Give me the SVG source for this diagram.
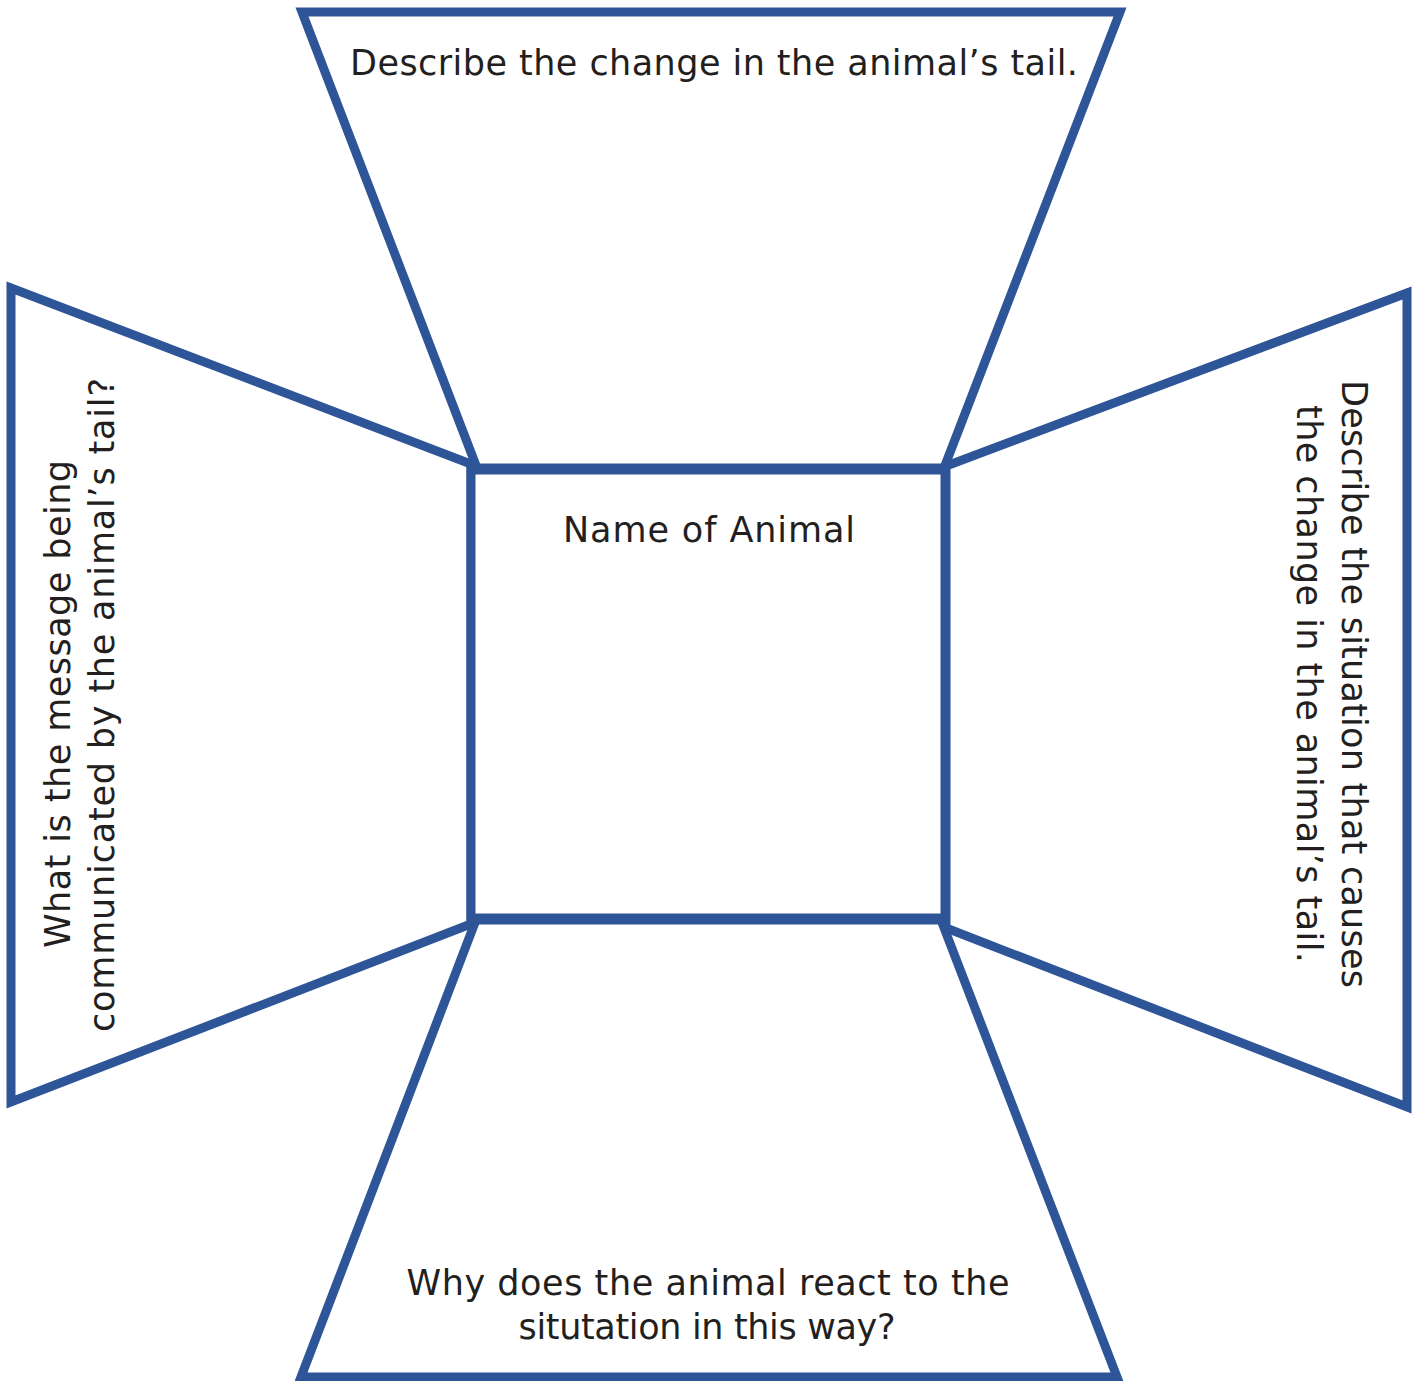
<svg xmlns="http://www.w3.org/2000/svg" width="1422" height="1381" viewBox="0 0 1422 1381">
<style>
.shape{fill:#ffffff;stroke:#2E5597;stroke-width:9;stroke-linejoin:miter}
.t{font-family:"DejaVu Sans","Liberation Sans",sans-serif;font-size:35px;fill:#231F20;text-anchor:middle}
</style>
<rect width="1422" height="1381" fill="#ffffff"/>
<g id="top">
<polygon class="shape" points="302,12 1120,12 944,468 477,468"/>
<text class="t" x="714" y="75" textLength="728">Describe the change in the animal’s tail.</text>
</g>
<g id="left">
<polygon class="shape" points="11,288 471,464 471,924 11,1102"/>
<text class="t" transform="translate(70,704) rotate(-90)" textLength="488">What is the message being</text>
<text class="t" transform="translate(114,705) rotate(-90)" textLength="654">communicated by the animal’s tail?</text>
</g>
<g id="right">
<polygon class="shape" points="1407,293 946,466 946,928 1407,1107"/>
<text class="t" transform="translate(1342,684) rotate(90)" textLength="608">Describe the situation that causes</text>
<text class="t" transform="translate(1297,684) rotate(90)" textLength="558">the change in the animal’s tail.</text>
</g>
<g id="bottom">
<polygon class="shape" points="476,920 941,920 1117,1377 301,1377"/>
<text class="t" x="708" y="1295" textLength="603">Why does the animal react to the</text>
<text class="t" x="707" y="1339" textLength="377">situtation in this way?</text>
</g>
<g id="center">
<rect class="shape" x="471" y="470" width="474" height="448"/>
<text class="t" x="709" y="542" textLength="292">Name of Animal</text>
</g>
<g id="connectors"></g>
</svg>
